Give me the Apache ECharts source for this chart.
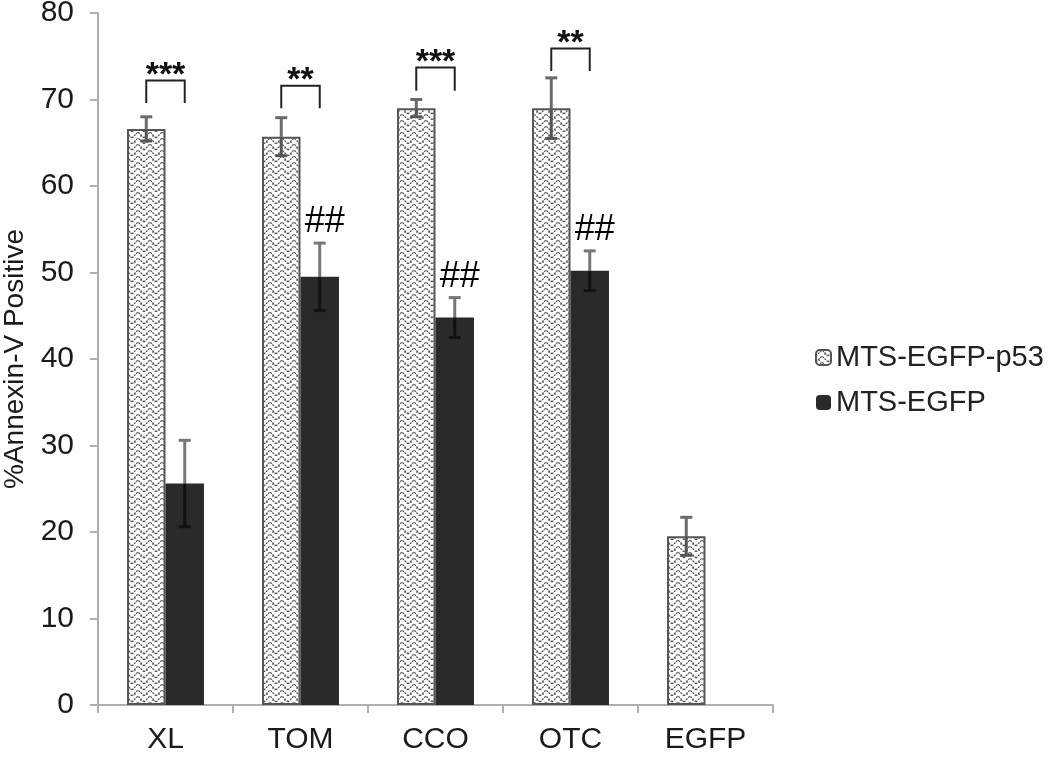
<!DOCTYPE html>
<html>
<head>
<meta charset="utf-8">
<script src="https://cdn.jsdelivr.net/npm/echarts@6/dist/echarts.min.js"></script>
<style>
  html, body { margin: 0; padding: 0; background: #fff; }
  #chart { width: 1050px; height: 766px; }
</style>
</head>
<body>
<div id="chart"></div>
<script>
// categories and values
const categories = ["XL", "TOM", "CCO", "OTC", "EGFP"];
const seriesNames = ["MTS-EGFP-p53", "MTS-EGFP"];
const p53Mean = [66.6, 65.7, 69.0, 69.0, 19.5];
const p53Err = [1.4, 2.2, 1.0, 3.5, 2.2];
const egfpMean = [25.6, 49.5, 44.8, 50.2, null];
const egfpErr = [5.0, 3.9, 2.3, 2.3, null];
// significance brackets (value units): top of bracket, bottom of legs
const starText = ["***", "**", "***", "**", ""];
const bracketTop = [72.2, 71.6, 73.7, 75.9, null];
const bracketLeg = [69.6, 69.0, 71.0, 73.3, null];
const hashText = ["", "##", "##", "##", ""];

const FONT = "Liberation Sans, Arial, sans-serif";
const BAR_PCT = 0.285;

// zigzag fill used by the light bars
function makePattern() {
  const c = document.createElement("canvas");
  c.width = 12;
  c.height = 12;
  const ctx = c.getContext("2d");
  ctx.fillStyle = "#ffffff";
  ctx.fillRect(0, 0, 12, 12);
  ctx.strokeStyle = "#5a5a5a";
  ctx.lineWidth = 1.3;
  ctx.setLineDash([2, 1]);
  ctx.beginPath();
  ctx.moveTo(0, 6); ctx.lineTo(6, 0); ctx.lineTo(12, 6);
  ctx.moveTo(0, 12); ctx.lineTo(6, 6); ctx.lineTo(12, 12);
  ctx.moveTo(3, 9); ctx.lineTo(3, 12);
  ctx.moveTo(9, 3); ctx.lineTo(9, 6);
  ctx.stroke();
  return c;
}
const pattern = { image: makePattern(), repeat: "repeat" };

function errorRender(side, upperColor, lowerColor) {
  return function (params, api) {
    const idx = api.value(0);
    const mean = api.value(1);
    const err = api.value(2);
    if (mean == null || isNaN(mean)) return;
    const band = api.size([1, 0])[0];
    const x = api.coord([idx, mean])[0] + side * band * BAR_PCT / 2;
    const yTop = api.coord([idx, mean + err])[1];
    const yMid = api.coord([idx, mean])[1];
    const yBot = api.coord([idx, mean - err])[1];
    const cap = 6;
    return {
      type: "group",
      children: [
        { type: "line", shape: { x1: x, y1: yTop, x2: x, y2: yMid }, style: { stroke: upperColor, lineWidth: 3 } },
        { type: "line", shape: { x1: x, y1: yMid, x2: x, y2: yBot }, style: { stroke: lowerColor, lineWidth: 3 } },
        { type: "line", shape: { x1: x - cap, y1: yTop, x2: x + cap, y2: yTop }, style: { stroke: upperColor, lineWidth: 3 } },
        { type: "line", shape: { x1: x - cap, y1: yBot, x2: x + cap, y2: yBot }, style: { stroke: lowerColor, lineWidth: 3 } }
      ]
    };
  };
}

function bracketRender(params, api) {
  const idx = api.value(0);
  const top = api.value(1);
  const leg = api.value(2);
  if (top == null || isNaN(top)) return;
  const band = api.size([1, 0])[0];
  const cx = api.coord([idx, top])[0];
  const off = band * BAR_PCT / 2;
  const yTop = api.coord([idx, top])[1];
  const yLeg = api.coord([idx, leg])[1];
  return {
    type: "group",
    children: [
      {
        type: "polyline",
        shape: { points: [[cx - off, yLeg], [cx - off, yTop], [cx + off, yTop], [cx + off, yLeg]] },
        style: { stroke: "#222", lineWidth: 2, fill: null }
      },
      {
        type: "text",
        style: {
          text: starText[idx], x: cx, y: yTop - 5,
          font: "bold 34px " + FONT, fill: "#111",
          textAlign: "center", textVerticalAlign: "middle"
        }
      }
    ]
  };
}

function hashRender(params, api) {
  const idx = api.value(0);
  const v = api.value(1);
  if (!hashText[idx]) return;
  const band = api.size([1, 0])[0];
  const x = api.coord([idx, v])[0] + band * BAR_PCT / 2 + 5;
  const y = api.coord([idx, v])[1] - 21;
  return {
    type: "text",
    style: {
      text: hashText[idx], x: x, y: y,
      font: "36px " + FONT, fill: "#000",
      textAlign: "center", textVerticalAlign: "middle"
    }
  };
}

const chart = echarts.init(document.getElementById("chart"), null, { renderer: "canvas" });

const option = {
  animation: false,
  backgroundColor: "#fff",
  grid: { left: 98, right: 277, top: 13, bottom: 61, containLabel: false, outerBoundsMode: "none" },
  legend: {
    orient: "vertical",
    left: 810,
    top: 338,
    itemWidth: 15,
    itemHeight: 15,
    itemGap: 16,
    data: seriesNames,
    textStyle: { fontFamily: FONT, fontSize: 29, color: "#222" }
  },
  xAxis: {
    type: "category",
    data: categories,
    axisLine: { lineStyle: { color: "#b0b0b0", width: 2 } },
    axisTick: { show: true, length: 8, lineStyle: { color: "#b0b0b0", width: 2 } },
    axisLabel: { fontFamily: FONT, fontSize: 30, color: "#1a1a1a", margin: 20 }
  },
  yAxis: {
    type: "value",
    min: 0,
    max: 80,
    interval: 10,
    name: "%Annexin-V Positive",
    nameLocation: "middle",
    nameGap: 66,
    nameTextStyle: { fontFamily: FONT, fontSize: 28, color: "#1a1a1a" },
    axisLine: { show: true, lineStyle: { color: "#b0b0b0", width: 2 } },
    axisTick: { show: true, length: 8, lineStyle: { color: "#b0b0b0", width: 2 } },
    axisLabel: { fontFamily: FONT, fontSize: 30, color: "#1a1a1a", margin: 24 },
    splitLine: { show: false }
  },
  series: [
    {
      name: seriesNames[0],
      type: "bar",
      data: p53Mean,
      barWidth: (BAR_PCT * 100) + "%",
      barGap: "0%",
      itemStyle: { color: pattern, borderColor: "#555", borderWidth: 2 }
    },
    {
      name: seriesNames[1],
      type: "bar",
      data: egfpMean,
      barWidth: (BAR_PCT * 100) + "%",
      barGap: "0%",
      itemStyle: { color: "#2a2a2a" }
    },
    {
      type: "custom",
      renderItem: errorRender(-1, "#6a6a6a", "#555"),
      data: categories.map((c, i) => [i, p53Mean[i], p53Err[i]]),
      z: 5, clip: false, silent: true
    },
    {
      type: "custom",
      renderItem: errorRender(1, "#777", "#111"),
      data: categories.map((c, i) => [i, egfpMean[i], egfpErr[i]]),
      z: 5, clip: false, silent: true
    },
    {
      type: "custom",
      renderItem: bracketRender,
      data: categories.map((c, i) => [i, bracketTop[i], bracketLeg[i]]),
      z: 6, clip: false, silent: true
    },
    {
      type: "custom",
      renderItem: hashRender,
      data: categories.map((c, i) => [i, egfpMean[i] == null ? null : egfpMean[i] + egfpErr[i]]),
      z: 6, clip: false, silent: true
    }
  ]
};

chart.setOption(option);
</script>
</body>
</html>
